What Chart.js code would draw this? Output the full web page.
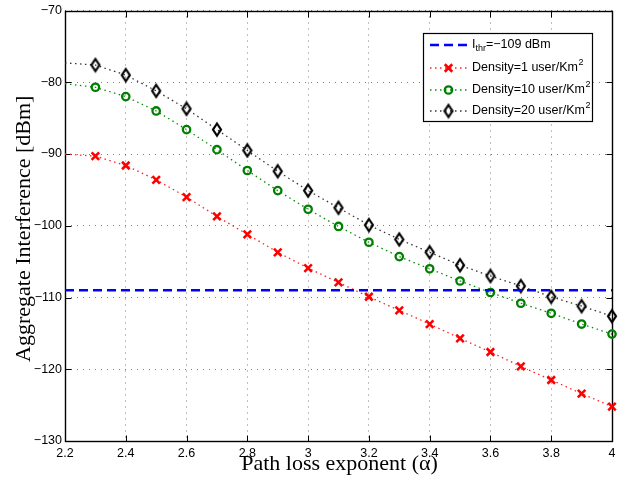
<!DOCTYPE html>
<html>
<head>
<meta charset="utf-8">
<script src="https://cdn.jsdelivr.net/npm/chart.js@4.4.0/dist/chart.umd.min.js"></script>
<style>
  html, body { margin: 0; padding: 0; background: #fff; }
  #wrap { width: 624px; height: 478px; position: relative; }
</style>
</head>
<body>
<div id="wrap"><canvas id="chart" width="624" height="478"></canvas></div>
<script>
'use strict';

// ******** DATA **************
let alphaValues = [2.2, 2.3, 2.4, 2.5, 2.6, 2.7, 2.8, 2.9, 3.0, 3.1, 3.2, 3.3, 3.4, 3.5, 3.6, 3.7, 3.8, 3.9, 4.0];
let density1 = [-90.0, -90.3, -91.6, -93.6, -96.0, -98.7, -101.2, -103.7, -105.9, -107.9, -109.9, -111.8, -113.7, -115.7, -117.6, -119.6, -121.5, -123.4, -125.2];
let density10 = [-80.2, -80.7, -82.0, -84.0, -86.6, -89.4, -92.3, -95.1, -97.7, -100.1, -102.3, -104.3, -106.0, -107.7, -109.3, -110.8, -112.2, -113.7, -115.1];
let density20 = [-77.3, -77.6, -79.0, -81.2, -83.7, -86.6, -89.5, -92.4, -95.1, -97.5, -99.9, -101.9, -103.7, -105.5, -107.0, -108.4, -109.9, -111.2, -112.6];
let thresholdValue = -109;

let xTicks = [2.2, 2.4, 2.6, 2.8, 3.0, 3.2, 3.4, 3.6, 3.8, 4.0];
let yTicks = [-130, -120, -110, -100, -90, -80, -70];

let seriesLabels = ['I_thr=\u2212109 dBm', 'Density=1 user/Km^2', 'Density=10 user/Km^2', 'Density=20 user/Km^2'];
let xTitle = 'Path loss exponent (\u03b1)';
let yTitle = 'Aggregate Interference [dBm]';

// ********* HELPERS ****************
function toPoints(values){
  let pts = [];
  for (let i = 0; i < values.length; i++){
    pts.push({x: alphaValues[i], y: values[i]});
  }
  return pts;
}

// first point (alpha = 2.2) has no marker, like the original plot
function markerRadius(r){
  return alphaValues.map((a, i) => (i === 0 ? 0 : r));
}

function formatTick(v){
  return String(Number(v.toFixed(1))).replace('-', '\u2212');
}

// tall thin diamond marker (matlab style)
function makeDiamond(){
  let c = document.createElement('canvas');
  c.width = 14;
  c.height = 17;
  let g = c.getContext('2d');
  g.strokeStyle = '#000';
  g.lineWidth = 2.2;
  g.beginPath();
  g.moveTo(7, 2.5);
  g.lineTo(11, 8.5);
  g.lineTo(7, 14.5);
  g.lineTo(3, 8.5);
  g.closePath();
  g.stroke();
  return c;
}
let diamondMarker = makeDiamond();

// ********* PLUGINS ****************
// box, inward ticks on all four sides
let boxTicksPlugin = {
  id: 'boxTicks',
  beforeDatasetsDraw(chart){
    let ctx = chart.ctx;
    let a = chart.chartArea;
    let xs = chart.scales.x;
    let ys = chart.scales.y;
    let len = 6;
    let l = Math.round(a.left) + 0.5, r = Math.round(a.right) + 0.5;
    let t = Math.round(a.top) + 0.5, b = Math.round(a.bottom) + 0.5;
    ctx.save();
    ctx.strokeStyle = '#000';
    ctx.lineWidth = 1;
    ctx.setLineDash([]);
    ctx.beginPath();
    xTicks.forEach(function(v){
      let px = Math.round(xs.getPixelForValue(v)) + 0.5;
      ctx.moveTo(px, b); ctx.lineTo(px, b - len);
      ctx.moveTo(px, t); ctx.lineTo(px, t + len);
    });
    yTicks.forEach(function(v){
      let py = Math.round(ys.getPixelForValue(v)) + 0.5;
      ctx.moveTo(l, py); ctx.lineTo(l + len, py);
      ctx.moveTo(r, py); ctx.lineTo(r - len, py);
    });
    ctx.stroke();
    ctx.lineWidth = 1.4;
    ctx.strokeRect(l, t, r - l, b - t);
    ctx.restore();
  }
};

// axis titles at the positions of the original figure
let titlesPlugin = {
  id: 'axisTitles',
  afterDraw(chart){
    let ctx = chart.ctx;
    let a = chart.chartArea;
    ctx.save();
    ctx.fillStyle = '#000';
    ctx.font = '22px "Liberation Serif", "Times New Roman", serif';
    ctx.textAlign = 'center';
    ctx.textBaseline = 'alphabetic';
    ctx.fillText(xTitle, (a.left + a.right) / 2 + 1, 470);
    ctx.translate(30, (a.top + a.bottom) / 2 + 3);
    ctx.rotate(-Math.PI / 2);
    ctx.fillText(yTitle, 0, 0);
    ctx.restore();
  }
};

// draws text with _sub and ^sup parts
function drawRichText(ctx, text, x, y){
  let parts = text.split(/(_[a-z]+|\^[0-9]+)/);
  let cx = x;
  parts.forEach(function(p){
    if (!p) return;
    if (p[0] === '_'){
      ctx.font = '9px "Liberation Sans", Arial, sans-serif';
      ctx.fillText(p.slice(1), cx, y + 4);
      cx += ctx.measureText(p.slice(1)).width;
    } else if (p[0] === '^'){
      ctx.font = '9px "Liberation Sans", Arial, sans-serif';
      ctx.fillText(p.slice(1), cx + 0.5, y - 5);
      cx += ctx.measureText(p.slice(1)).width;
    } else {
      ctx.font = '12.5px "Liberation Sans", Arial, sans-serif';
      ctx.fillText(p, cx, y);
      cx += ctx.measureText(p).width;
    }
  });
}

let legendPlugin = {
  id: 'boxLegend',
  afterDraw(chart){
    let ctx = chart.ctx;
    let box = {left: 423.5, top: 33.5, width: 169, height: 88};
    let rows = [45, 68, 90, 111];
    ctx.save();
    ctx.fillStyle = '#fff';
    ctx.fillRect(box.left, box.top, box.width, box.height);
    ctx.strokeStyle = '#000';
    ctx.lineWidth = 1.2;
    ctx.setLineDash([]);
    ctx.strokeRect(box.left, box.top, box.width, box.height);
    chart.data.datasets.forEach(function(ds, i){
      let y = rows[i];
      ctx.save();
      ctx.strokeStyle = ds.borderColor;
      ctx.lineWidth = ds.borderWidth;
      ctx.setLineDash(ds.borderDash || []);
      ctx.beginPath();
      ctx.moveTo(430, y);
      ctx.lineTo(467, y);
      ctx.stroke();
      ctx.restore();
      if (ds.pointStyle){
        ctx.save();
        ctx.strokeStyle = ds.pointBorderColor;
        ctx.fillStyle = 'rgba(0,0,0,0)';
        ctx.lineWidth = ds.pointBorderWidth;
        ctx.setLineDash([]);
        Chart.helpers.drawPoint(ctx, {pointStyle: ds.pointStyle, radius: ds.legendRadius, rotation: 0, borderWidth: ds.pointBorderWidth}, 448.5, y);
        ctx.restore();
      }
      ctx.fillStyle = '#000';
      ctx.textBaseline = 'middle';
      ctx.textAlign = 'left';
      drawRichText(ctx, ds.label, 472, y);
    });
    ctx.restore();
  }
};

// ********* CHART ****************
let dottedDash = [1.5, 3.5];
let gridColor = 'rgba(0,0,0,0.5)';
let tickFont = {family: '"Liberation Sans", Arial, sans-serif', size: 12.5};

let chartSettings = {
  type: 'line',
  data: {
    datasets: [{
      label: seriesLabels[0],
      data: [{x: alphaValues[0], y: thresholdValue}, {x: alphaValues[alphaValues.length - 1], y: thresholdValue}],
      borderColor: '#0000ff',
      borderWidth: 2.5,
      borderDash: [9, 5],
      pointRadius: 0,
      clip: false
    },
    {
      label: seriesLabels[1],
      data: toPoints(density1),
      borderColor: '#ff2020',
      borderWidth: 1.3,
      borderDash: dottedDash,
      pointStyle: 'crossRot',
      pointRadius: markerRadius(5.3),
      legendRadius: 5.3,
      pointBorderColor: '#ff0000',
      pointBackgroundColor: 'rgba(0,0,0,0)',
      pointBorderWidth: 2.6,
      clip: false
    },
    {
      label: seriesLabels[2],
      data: toPoints(density10),
      borderColor: '#0a8a0a',
      borderWidth: 1.3,
      borderDash: dottedDash,
      pointStyle: 'circle',
      pointRadius: markerRadius(3.7),
      legendRadius: 3.7,
      pointBorderColor: '#008000',
      pointBackgroundColor: 'rgba(0,0,0,0)',
      pointBorderWidth: 2.3,
      clip: false
    },
    {
      label: seriesLabels[3],
      data: toPoints(density20),
      borderColor: '#333',
      borderWidth: 1.3,
      borderDash: dottedDash,
      pointStyle: diamondMarker,
      pointRadius: markerRadius(5),
      legendRadius: 5,
      pointBorderColor: '#000',
      pointBackgroundColor: 'rgba(0,0,0,0)',
      pointBorderWidth: 2.2,
      clip: false
    }]
  },
  options: {
    responsive: false,
    animation: false,
    layout: {padding: {left: 0, right: 12, top: 10, bottom: 0}},
    plugins: {
      legend: {display: false},
      tooltip: {enabled: false}
    },
    elements: {line: {tension: 0}},
    scales: {
      x: {
        type: 'linear',
        min: 2.2,
        max: 4,
        afterBuildTicks(scale){ scale.ticks = xTicks.map(v => ({value: v})); },
        afterFit(scale){ scale.height = 37; },
        grid: {color: gridColor, lineWidth: 1, drawTicks: false},
        border: {display: false, dash: [1, 5]},
        ticks: {padding: 5, color: '#000', maxRotation: 0, font: tickFont, callback: formatTick}
      },
      y: {
        type: 'linear',
        min: -130,
        max: -70,
        afterBuildTicks(scale){ scale.ticks = yTicks.map(v => ({value: v})); },
        afterFit(scale){ scale.width = 65; },
        grid: {color: gridColor, lineWidth: 1, drawTicks: false},
        border: {display: false, dash: [1, 5]},
        ticks: {padding: 3, color: '#000', font: tickFont, callback: formatTick}
      }
    }
  },
  plugins: [boxTicksPlugin, titlesPlugin, legendPlugin]
};

new Chart(document.getElementById('chart'), chartSettings);
</script>
</body>
</html>
